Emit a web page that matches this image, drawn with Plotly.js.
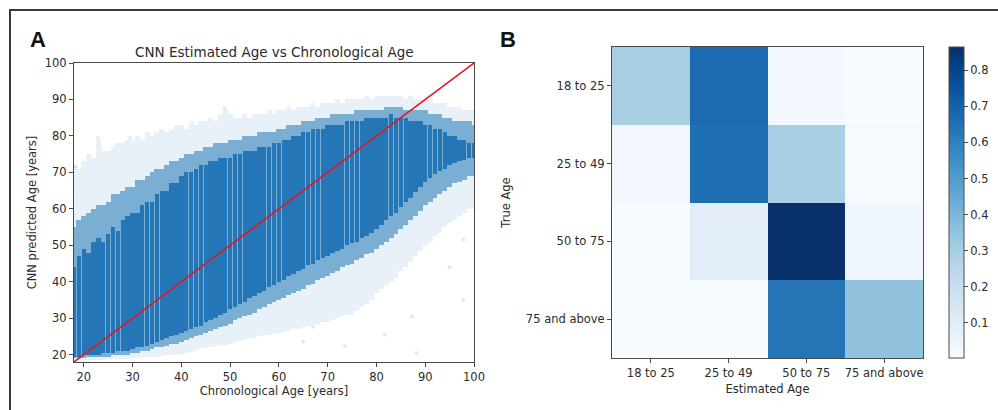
<!DOCTYPE html>
<html>
<head>
<meta charset="utf-8">
<script src="https://cdn.plot.ly/plotly-3.0.1.min.js"></script>
<style>html,body{margin:0;padding:0;background:#fff;}#chart{width:998px;height:410px;}</style>
</head>
<body>
<div id="chart"></div>
<script>
// ---------- Panel A: scatter density read per chronological age ----------
const ages = [18,19,20,21,22,23,24,25,26,27,28,29,30,31,32,33,34,35,36,37,38,39,40,41,42,43,44,45,46,47,48,49,50,51,52,53,54,55,56,57,58,59,60,61,62,63,64,65,66,67,68,69,70,71,72,73,74,75,76,77,78,79,80,81,82,83,84,85,86,87,88,89,90,91,92,93,94,95,96,97,98,99,100];
const sparseHigh = [72,71,73,75,74,79,76,76,77,78, 78,79,79,80,79,81,80,81,82,81, 82,83,83,82,84,83,84,84,85,84, 86,87,86,85,85,86,85,86,86,86, 87,86,87,87,88,87,88,88,88,89, 88,89,89,89,90,89,90,90,90,90, 91,90,91,91,91,91,91,91,90,91, 90,90,90,90,89,89,89,88,88,88, 87,87,87];
const midHigh = [55,57,58,59,60,61,61,62,64,64, 65,66,66,68,68,69,70,71,71,72, 73,73,74,75,75,76,76,77,77,78, 78,78,79,79,79,80,80,80,81,81, 81,81,82,82,83,83,83,84,84,84, 85,85,85,86,86,86,86,86,87,87, 87,87,87,87,88,88,88,88,87,87, 87,87,87,86,86,86,85,85,84,84, 84,84,83];
const coreHigh = [44,47,49,48,51,52,51,53,55,54, 57,58,59,59,61,62,62,64,65,65, 67,67,69,70,70,71,72,72,73,73, 74,74,74,75,75,76,76,76,77,77, 77,78,78,79,79,80,80,81,81,82, 82,82,83,83,83,83,84,84,84,84, 85,85,85,85,85,86,85,85,85,84, 84,84,83,83,82,82,81,80,80,79, 79,78,78];
const coreLow = [19.5,19.5,20,20,20,20,20.5,20.5,20.5,21, 21,21,21.5,22,22,22.5,23,23.5,24,24.5, 25,25.5,26,26.5,27,27.5,28,29,29.5,30, 31,31.5,32.5,33,34,34.5,35.5,36,37,37.5, 38.5,39,40,40.5,41.5,42,43,43.5,44.5,45, 46,46.5,47,48,48.5,49,50,50.5,51,52, 52.5,53.5,54.5,55.5,57,58,59,60.5,62,63, 64.5,66,67.5,68.5,69.5,70.5,71,72,72.5,73, 73.5,74,74];
const midLow = [19,19,19,19.5,19.5,19.5,19.5,19.5,20,20, 20,20,20.5,20.5,21,21,21.5,22,22,22.5, 23,23,23.5,24,24.5,25,25.5,26,26.5,27, 27.5,28,28.5,29.5,30,30.5,31,31.5,32.5,33, 34,34.5,35,35.5,36.5,37,37.5,38,39,39.5, 40.5,41,41.5,42.5,43,44,44.5,45,46,46.5, 47.5,48,49,50,51,52,53,54.5,55.5,57, 58,59.5,61,62,63,64,65,66,67,67.5, 68,69,69];
const sparseLow = [18.3,18.3,18.5,18.5,18.5,18.6,18.6,18.7,18.7,18.8, 18.8,18.9,19,19,19.2,19.3,19.4,19.5,19.6,19.8, 20,20,20.2,20.5,20.8,21,21.5,21.8,22,22.3, 22.6,22.8,23,23.5,23.8,24,24.3,24.5,25,25.3, 25.5,25.8,26,26.3,26.5,27,27,27.5,28,28.3, 28.5,29,29,29.5,30,30.5,31,31,32,33, 34,35,37,38,39,40,41,43,44,45.5, 47,48.5,50,51,52.5,53.5,55,56,57,58, 59,60,60];
const outlierX = [18.4,22.9,29.5,48.9,65.0,67.0,73.5,81.7,87.3,88.2,95.0,97.8,97.8];
const outlierY = [71.6,79.4,79.5,87.6,23.6,27.7,22.3,25.5,30.5,20.5,44.0,35.0,51.5];
const identityX = [18,100];
const identityY = [18,100];

// ---------- Panel B: normalized confusion matrix ----------
const estimatedCats = ['18 to 25','25 to 49','50 to 75','75 and above'];
const trueCats = ['18 to 25','25 to 49','50 to 75','75 and above'];
const row18to25 = [0.30,0.67,0.025,0.005];
const row25to49 = [0.028,0.66,0.30,0.008];
const row50to75 = [0.006,0.095,0.864,0.035];
const row75up   = [0.003,0.005,0.64,0.352];
const cbTicks = [0.1,0.2,0.3,0.4,0.5,0.6,0.7,0.8];
const ageTicks = [20,30,40,50,60,70,80,90,100];

// ---------- helpers (layout only) ----------
const W = 998, H = 410;
const px = v => v / W;
const py = v => 1 - v / H;
const FONT = 'DejaVu Sans, sans-serif';
const TXT = '#2b2b2b';
const LINE = '#4a4a4a';
const FS = 11.5;

const span = (lo, hi) => hi.map((h, i) => h - lo[i]);

const traces = [
  {type:'bar', x:ages, base:sparseLow, y:span(sparseLow, sparseHigh), width:1.0,
   marker:{color:'rgba(31,119,180,0.10)', line:{width:0}}, xaxis:'x', yaxis:'y', hoverinfo:'skip'},
  {type:'bar', x:ages, base:midLow, y:span(midLow, midHigh), width:1.0,
   marker:{color:'rgba(31,119,180,0.55)', line:{width:0}}, xaxis:'x', yaxis:'y', hoverinfo:'skip'},
  {type:'bar', x:ages, base:coreLow, y:span(coreLow, coreHigh), width:0.9,
   marker:{color:'rgb(36,118,182)', line:{width:0}}, xaxis:'x', yaxis:'y', hoverinfo:'skip'},
  {type:'scatter', mode:'markers', x:outlierX, y:outlierY,
   marker:{color:'rgba(31,119,180,0.15)', size:4}, xaxis:'x', yaxis:'y', hoverinfo:'skip'},
  {type:'scatter', mode:'lines', x:identityX, y:identityY,
   line:{color:'#e8141c', width:1.5}, xaxis:'x', yaxis:'y', hoverinfo:'skip'},
  {type:'heatmap', x:estimatedCats, y:trueCats, z:[row18to25,row25to49,row50to75,row75up],
   xaxis:'x2', yaxis:'y2',
   colorscale:[[0,'#f7fbff'],[0.125,'#deebf7'],[0.25,'#c6dbef'],[0.375,'#9ecae1'],[0.5,'#6baed6'],[0.625,'#4292c6'],[0.75,'#2171b5'],[0.875,'#08519c'],[1,'#08306b']],
   colorbar:{x:px(949), xanchor:'left', xpad:0, ypad:0, y:py(47), yanchor:'top',
     lenmode:'pixels', len:311, thickness:15, outlinecolor:LINE, outlinewidth:1,
     tickmode:'array', tickvals:cbTicks, ticks:'outside', ticklen:4, tickcolor:LINE,
     tickfont:{family:FONT, size:FS, color:TXT}}}
];

const axisCommon = {showgrid:false, zeroline:false, showline:true, mirror:true, linecolor:LINE, linewidth:1,
  ticks:'outside', ticklen:4, tickcolor:LINE, tickfont:{family:FONT, size:FS, color:TXT}, automargin:false, fixedrange:true};

const layout = {
  width:W, height:H, margin:{l:0, r:0, t:0, b:0}, paper_bgcolor:'#fff', plot_bgcolor:'#fff',
  showlegend:false, barmode:'overlay', bargap:0,
  xaxis:Object.assign({}, axisCommon, {domain:[px(74), px(474)], range:[18,100], tickmode:'array', tickvals:ageTicks, anchor:'y',
    title:{text:'Chronological Age [years]', font:{family:FONT, size:FS, color:TXT}, standoff:3}}),
  yaxis:Object.assign({}, axisCommon, {domain:[py(362), py(63)], range:[18,100], tickmode:'array', tickvals:ageTicks, anchor:'x',
    title:{text:'CNN predicted Age [years]', font:{family:FONT, size:FS, color:TXT}, standoff:5}}),
  xaxis2:Object.assign({}, axisCommon, {domain:[px(612), px(923)], anchor:'y2', type:'category',
    title:{text:'Estimated Age', font:{family:FONT, size:FS, color:TXT}, standoff:6}}),
  yaxis2:Object.assign({}, axisCommon, {domain:[py(358), py(47)], anchor:'x2', type:'category', autorange:'reversed',
    title:{text:'True Age', font:{family:FONT, size:FS, color:TXT}, standoff:12}}),
  annotations:[
    {xref:'paper', yref:'paper', x:px(274), y:py(52), xanchor:'center', yanchor:'middle', showarrow:false,
     text:'CNN Estimated Age vs Chronological Age', font:{family:FONT, size:13.5, color:TXT}},
    {xref:'paper', yref:'paper', x:px(38), y:py(40), xanchor:'center', yanchor:'middle', showarrow:false,
     text:'<b>A</b>', font:{family:'Liberation Sans, Arial, sans-serif', size:22, color:'#111'}},
    {xref:'paper', yref:'paper', x:px(508), y:py(40), xanchor:'center', yanchor:'middle', showarrow:false,
     text:'<b>B</b>', font:{family:'Liberation Sans, Arial, sans-serif', size:22, color:'#111'}}
  ],
  shapes:[
    {type:'rect', xref:'paper', yref:'paper', x0:px(10), x1:1.05, y0:-0.1, y1:py(10), line:{color:'#3a3a3a', width:2}, fillcolor:'rgba(0,0,0,0)', layer:'below'}
  ]
};

Plotly.newPlot('chart', traces, layout, {staticPlot:true, displayModeBar:false});
</script>
</body>
</html>
